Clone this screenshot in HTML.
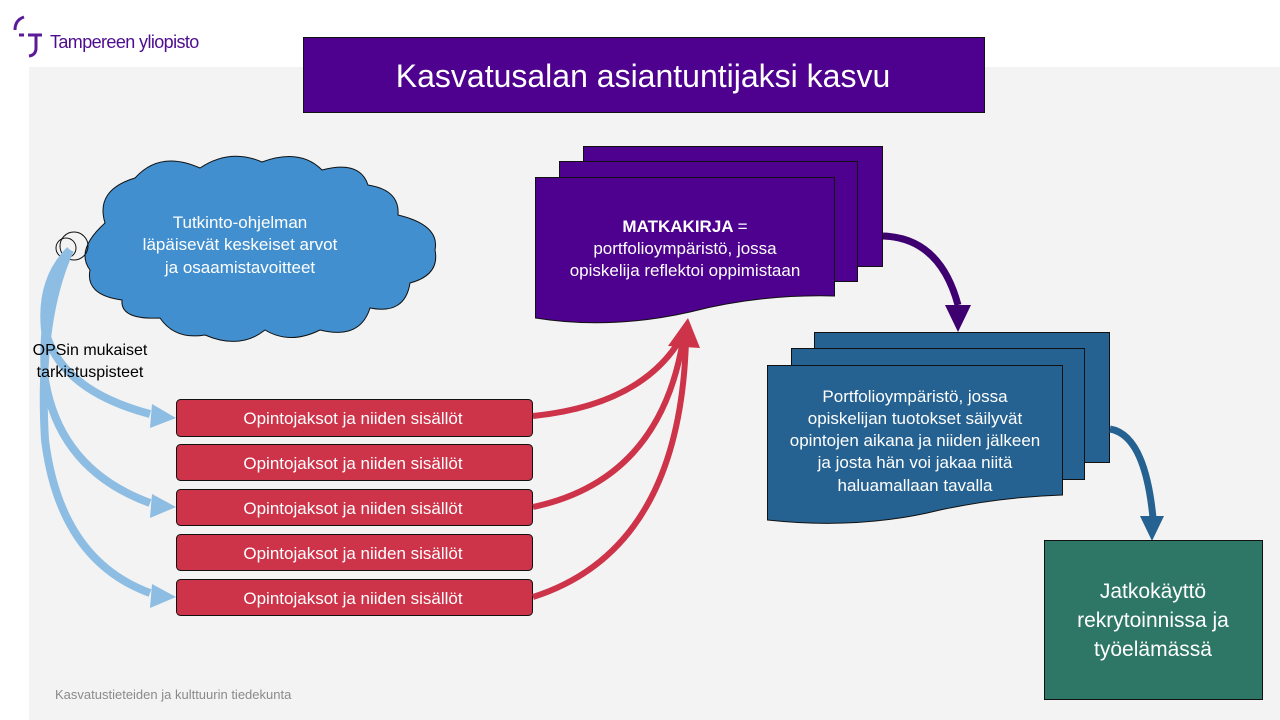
<!DOCTYPE html>
<html><head><meta charset="utf-8"><style>
body{margin:0;width:1280px;height:720px;overflow:hidden;background:#fff;font-family:"Liberation Sans",Arial,sans-serif}
svg{position:absolute;left:0;top:0}
</style></head><body>
<svg width="1280" height="720" viewBox="0 0 1280 720" font-family="Liberation Sans, Arial, sans-serif">
<rect x="29" y="67" width="1251" height="653" fill="#f3f3f3"/>
<!-- logo -->
<path d="M24 17 Q15 20 15 30" stroke="#5a1a9a" stroke-width="3" fill="none"/>
<path d="M19 35 H24 M28 35 H42 M36 35 V48 Q36 55 29 56" stroke="#5a1a9a" stroke-width="3" fill="none"/>
<text x="50" y="48" font-size="18" fill="#4e0d8e" letter-spacing="-0.6">Tampereen yliopisto</text>
<!-- title -->
<rect x="303.5" y="37.5" width="681" height="75" fill="#4e008e" stroke="#111"/>
<text x="643" y="87" font-size="32" fill="#fff" text-anchor="middle">Kasvatusalan  asiantuntijaksi kasvu</text>
<!-- cloud -->
<g fill="#418fcf" stroke="#111" stroke-width="1">
<path d="M105 223 Q95 190 135 178 Q160 150 200 168 Q230 148 262 162 Q300 148 322 170 Q360 160 368 185 Q400 190 398 215 Q440 225 435 250 Q440 275 410 283 Q405 315 370 308 Q360 340 320 330 Q290 345 265 330 Q240 350 205 335 Q175 340 160 318 Q120 320 122 300 Q85 295 90 270 Q75 250 105 223 Z"/>
<circle cx="74" cy="246" r="14" fill="none"/>
<circle cx="66" cy="248" r="10" fill="none"/>
</g>
<text fill="#fff" font-size="17" text-anchor="middle"><tspan x="240" y="228">Tutkinto-ohjelman</tspan><tspan x="240" y="250">läpäisevät keskeiset arvot</tspan><tspan x="240" y="273">ja osaamistavoitteet</tspan></text>
<!-- light blue arrows -->
<g stroke="#8dbde3" stroke-width="8" fill="none">
<path d="M70 250 Q40 280 45 330 Q60 390 150 414"/>
<path d="M70 250 Q40 300 45 380 Q60 470 150 503"/>
<path d="M70 250 Q38 320 45 440 Q60 560 150 593"/>
</g>
<g fill="#8dbde3">
<path d="M176 418 L152 404 L150 428 Z"/>
<path d="M176 507 L152 494 L150 518 Z"/>
<path d="M176 597 L152 584 L150 608 Z"/>
</g>
<text font-size="16" fill="#000" text-anchor="middle"><tspan x="90" y="355">OPSin mukaiset</tspan><tspan x="90" y="377">tarkistuspisteet</tspan></text>
<!-- red boxes -->
<g fill="#cd3349" stroke="#111">
<rect x="176.5" y="399.5" width="356" height="37" rx="4"/>
<rect x="176.5" y="444.5" width="356" height="36" rx="4"/>
<rect x="176.5" y="489.5" width="356" height="36" rx="4"/>
<rect x="176.5" y="534.5" width="356" height="36" rx="4"/>
<rect x="176.5" y="579.5" width="356" height="36" rx="4"/>
</g>
<g fill="#fff" font-size="17" text-anchor="middle">
<text x="353" y="424">Opintojaksot ja niiden sisällöt</text>
<text x="353" y="469">Opintojaksot ja niiden sisällöt</text>
<text x="353" y="514">Opintojaksot ja niiden sisällöt</text>
<text x="353" y="559">Opintojaksot ja niiden sisällöt</text>
<text x="353" y="604">Opintojaksot ja niiden sisällöt</text>
</g>
<!-- red arrows -->
<g stroke="#cd3349" stroke-width="6" fill="none">
<path d="M533 416 Q640 405 680 340"/>
<path d="M533 507 Q660 480 683 340"/>
<path d="M533 597 Q680 550 686 340"/>
</g>
<path d="M688 318 L668 346 L700 348 Z" fill="#cd3349"/>
<!-- purple doc stack -->
<g fill="#4e008e" stroke="#111">
<rect x="583.5" y="146.5" width="299" height="120"/>
<rect x="559.5" y="161.5" width="298" height="120"/>
<path d="M535.5 177.5 H834.5 V296 Q760 294 690 312 Q610 330 535.5 318 Z"/>
</g>
<text fill="#fff" font-size="17" text-anchor="middle"><tspan x="685" y="232" font-weight="bold">MATKAKIRJA <tspan font-weight="normal">=</tspan></tspan><tspan x="685" y="254">portfolioympäristö, jossa</tspan><tspan x="685" y="276">opiskelija reflektoi oppimistaan</tspan></text>
<path d="M883 236 Q940 238 958 305" stroke="#3e0070" stroke-width="7" fill="none"/>
<path d="M958 332 L945 305 L971 305 Z" fill="#3e0070"/>
<!-- blue doc stack -->
<g fill="#256291" stroke="#111">
<rect x="814.5" y="332.5" width="295" height="130"/>
<rect x="791.5" y="348.5" width="293" height="131"/>
<path d="M767.5 365.5 H1062.5 V495 Q1000 497 940 510 Q860 530 767.5 520 Z"/>
</g>
<text fill="#fff" font-size="17" text-anchor="middle"><tspan x="915" y="402">Portfolioympäristö, jossa</tspan><tspan x="915" y="424">opiskelijan tuotokset säilyvät</tspan><tspan x="915" y="446">opintojen aikana ja niiden jälkeen</tspan><tspan x="915" y="468">ja josta hän voi jakaa niitä</tspan><tspan x="915" y="491">haluamallaan tavalla</tspan></text>
<path d="M1110 429 Q1145 435 1153 518" stroke="#256291" stroke-width="7" fill="none"/>
<path d="M1152 541 L1140 516 L1164 516 Z" fill="#256291"/>
<!-- green box -->
<rect x="1044.5" y="540.5" width="218" height="159" fill="#2e7767" stroke="#111"/>
<text fill="#fff" font-size="21" text-anchor="middle"><tspan x="1153" y="598">Jatkokäyttö</tspan><tspan x="1153" y="627">rekrytoinnissa ja</tspan><tspan x="1153" y="656">työelämässä</tspan></text>
<text x="55" y="699" font-size="13" fill="#8a8a8a">Kasvatustieteiden ja kulttuurin tiedekunta</text>
</svg>
</body></html>
